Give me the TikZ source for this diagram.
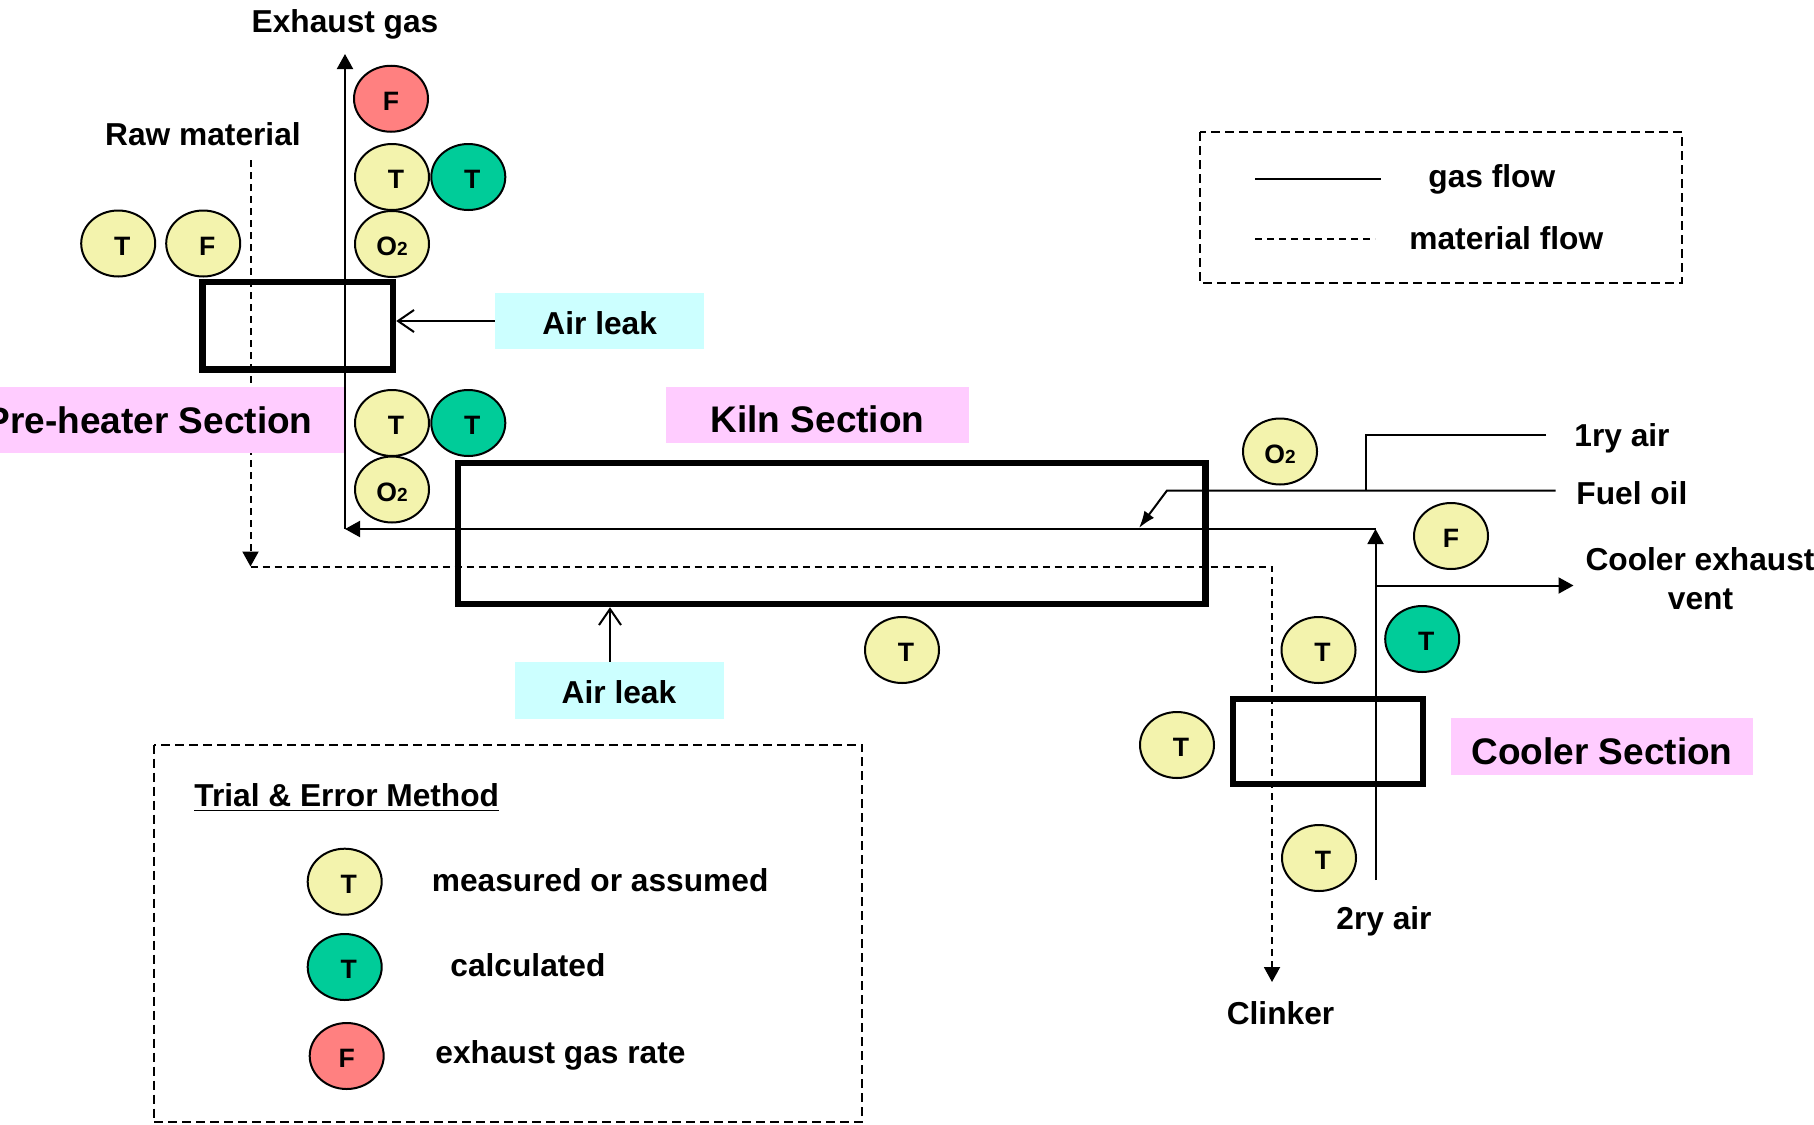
\documentclass[tikz,border=0pt]{standalone}
\usepackage{fontspec}
\setmainfont{Liberation Sans}
\usetikzlibrary{arrows.meta,shapes.geometric}
\definecolor{cyel}{RGB}{243,243,173}
\definecolor{cgrn}{RGB}{0,204,153}
\definecolor{cred}{RGB}{255,128,128}
\definecolor{ccyan}{RGB}{204,255,255}
\definecolor{cpink}{RGB}{255,204,255}
\newcommand{\otwo}{O{\fontsize{9.5pt}{10pt}\selectfont 2}}
\begin{document}
\begin{tikzpicture}[x=0.5pt,y=-0.5pt,
  lbl/.style={font=\fontsize{15.85pt}{19pt}\selectfont\bfseries, inner sep=0pt, text height=11.35pt, text depth=0pt},
  sec/.style={font=\fontsize{18.5pt}{22pt}\selectfont\bfseries, inner sep=0pt, text height=13.25pt, text depth=0pt},
  meas/.style={ellipse, draw, line width=1pt, minimum width=37pt, minimum height=33pt, inner sep=0pt, fill=cyel, font=\fontsize{13.3pt}{15pt}\selectfont\bfseries, text height=11.5pt, text depth=0pt},
  calc/.style={meas, fill=cgrn},
  rate/.style={meas, fill=cred},
  tsym/.style={execute at begin node=\hspace{4pt}},
  unit/.style={draw, line width=3.25pt, inner sep=0pt},
  gas/.style={line width=1pt},
  mat/.style={line width=1pt, dash pattern=on 3.5pt off 2.5pt},
  frame/.style={line width=1pt, dash pattern=on 4.5pt off 2.5pt},
  tri/.style={-{Triangle[length=7.5pt,width=8pt]}},
  barb/.style={-{Straight Barb[length=8pt,width=11pt]}},
  thin/.style={-{Latex[length=8.5pt,width=6pt]}},
  leakbox/.style={fill=ccyan, minimum width=104.5pt, minimum height=28.3pt, inner sep=0pt, font=\fontsize{15.85pt}{19pt}\selectfont\bfseries, text height=13.35pt, text depth=0pt},
  secbox/.style={fill=cpink, minimum height=28pt, inner sep=0pt, font=\fontsize{18.5pt}{22pt}\selectfont\bfseries, text height=17.95pt, text depth=0pt}
]
\useasboundingbox (0,0) rectangle (1814,1124);

% coordinates
\coordinate (r0) at (250.5,160);
\coordinate (r1) at (250.5,566.5);
\coordinate (m0) at (250.5,566.5);
\coordinate (m1) at (1272,566.5);
\coordinate (m2) at (1272,982);
\coordinate (exc) at (345,529);
\coordinate (ext) at (345,54);
\coordinate (gc) at (1375.5,529);
\coordinate (sb) at (1375.5,880);
\coordinate (ce0) at (1375.5,585.5);
\coordinate (ce1) at (1573.5,585.5);
\coordinate (f0) at (1555.5,490.5);
\coordinate (f1) at (1167,490.5);
\coordinate (f2) at (1139,528);
\coordinate (p0) at (1546,434.5);
\coordinate (p1) at (1365.5,434.5);
\coordinate (p2) at (1365.5,490.5);

% material flow
\draw[mat,tri] (r0) -- (r1);
\draw[mat,tri] (m0) -- (m1) -- (m2);

% section backgrounds
\fill[cpink] (-5,387) rectangle (345,453);
\node[sec, anchor=east] (presec) at (313,420) {Pre-heater Section};
\node[secbox, minimum width=151.5pt] (kilnsec) at (817.5,415) {Kiln Section};
\node[secbox, minimum width=151pt, minimum height=28.5pt] (coolsec) at (1602,746.5) {Cooler Section};

% air leak boxes
\node[leakbox] (al1) at (599.75,321) {Air leak};
\node[leakbox] (al2) at (619,690.25) {Air leak};

% units
\node[unit, minimum width=95.25pt, minimum height=43.75pt] (pre) at (297.75,325.75) {};
\node[unit, minimum width=373.75pt, minimum height=70.5pt] (kiln) at (831.75,533.5) {};
\node[unit, minimum width=95pt, minimum height=42.5pt] (cool) at (1328,741.5) {};

% gas flow
\draw[gas,tri] (sb) -- (gc);
\draw[gas,tri] (gc) -- (exc);
\draw[gas,tri] (exc) -- (ext);
\draw[gas,tri] (ce0) -- (ce1);
\draw[gas,thin] (f0) -- (f1) -- (f2);
\draw[gas] (p0) -- (p1) -- (p2);
\draw[gas,barb] (al1.west) -- (al1.west -| pre.east);
\draw[gas,barb] ([xshift=-4.5pt]al2.north) -- ([xshift=-4.5pt]al2.north |- kiln.south);

% labels
\node[lbl] (exh) at (345,21) {Exhaust gas};
\node[lbl] (raw) at (203,134) {Raw material};
\node[lbl, anchor=west] (pri) at (1574,435.5) {1ry air};
\node[lbl, anchor=west] (fuel) at (1576,493.5) {Fuel oil};
\node[lbl] (cexh) at (1700,559.5) {Cooler exhaust};
\node[lbl] (cvent) at (1700.5,598) {vent};
\node[lbl] (sec2) at (1384,918.5) {2ry air};
\node[lbl] (clk) at (1280.5,1013.5) {Clinker};

% instruments
\node[rate] (fex) at (391,98.75) {F};
\node[meas,tsym] (t1) at (392,177) {T};
\node[calc,tsym] (t1c) at (468.3,177) {T};
\node[meas] (o1) at (392,244) {\otwo};
\node[meas,tsym] (traw) at (118.2,243.5) {T};
\node[meas,tsym] (fraw) at (203.2,243.5) {F};
\node[meas,tsym] (t2) at (392,423) {T};
\node[calc,tsym] (t2c) at (468.3,423) {T};
\node[meas] (o2) at (392,489.5) {\otwo};
\node[meas,tsym] (tk) at (902,650) {T};
\node[meas] (o3) at (1280,451.5) {\otwo};
\node[meas] (ff) at (1451,536) {F};
\node[meas,tsym] (t3) at (1318.5,650) {T};
\node[calc,tsym] (t3c) at (1422.2,639) {T};
\node[meas,tsym] (t4) at (1177,745) {T};
\node[meas,tsym] (t5) at (1319,858) {T};

% flow legend
\draw[frame] (1199.5,132) rectangle (1682,282.5);
\coordinate (lg0) at (1255,179);
\coordinate (lg1) at (1381,179);
\coordinate (lm0) at (1255,239);
\coordinate (lm1) at (1375,239);
\draw[gas] (lg0) -- (lg1);
\draw[mat] (lm0) -- (lm1);
\node[lbl, anchor=west] (lgt) at (1428,176) {gas flow};
\node[lbl, anchor=west] (lmt) at (1409,238) {material flow};

% trial & error legend
\draw[frame] (153.5,744.5) rectangle (862,1122);
\node[lbl, anchor=west] (trial) at (194,795.5) {\underline{Trial \& Error Method}};
\node[meas,tsym] (k1) at (344.7,881.7) {T};
\node[calc,tsym] (k2) at (344.7,967) {T};
\node[rate] (k3) at (346.7,1056) {F};
\node[lbl, anchor=west] (k1t) at (431.5,880) {measured or assumed};
\node[lbl, anchor=west] (k2t) at (450,965.5) {calculated};
\node[lbl, anchor=west] (k3t) at (435,1052.5) {exhaust gas rate};
\end{tikzpicture}
\end{document}
